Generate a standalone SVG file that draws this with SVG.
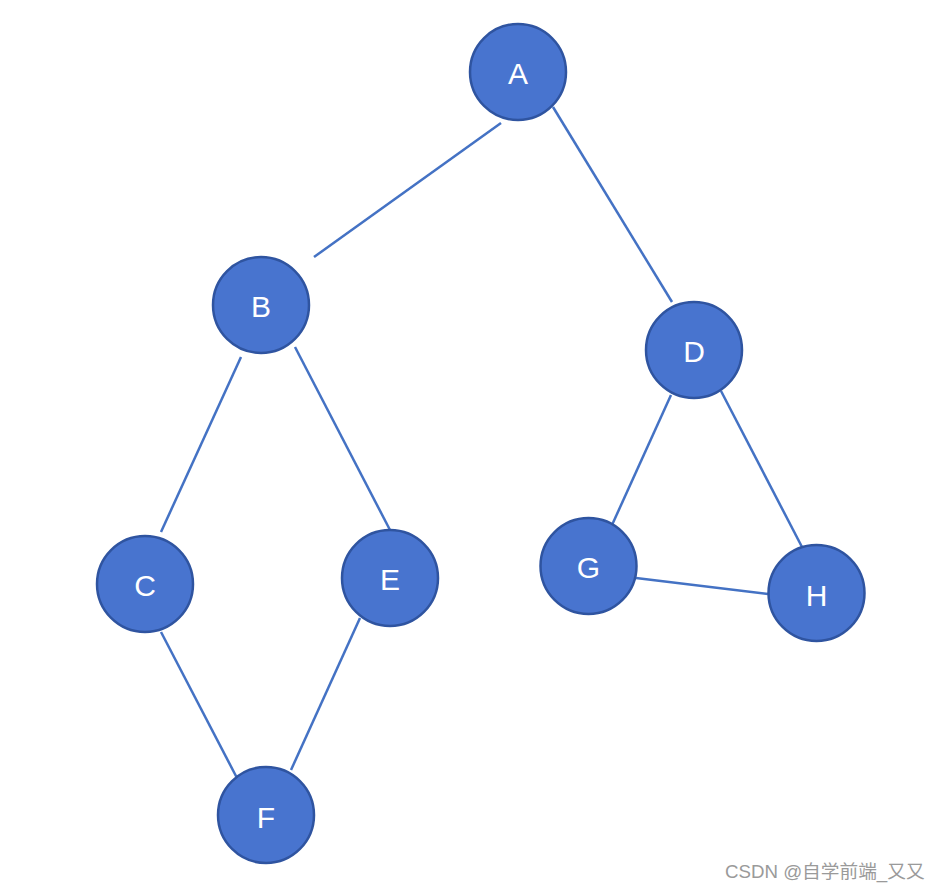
<svg xmlns="http://www.w3.org/2000/svg" width="942" height="890" viewBox="0 0 942 890">
<style>
.edge{stroke:#4472C4;stroke-width:2.5;fill:none}
.node circle{fill:#4874CF;stroke:#2F54A0;stroke-width:2.5}
.node text{fill:#fff;font-family:"Liberation Sans",Arial,sans-serif;font-size:30px;text-anchor:middle;dominant-baseline:central}
.wm{fill:#9a9a9a;font-family:"Liberation Sans","Noto Sans CJK SC",sans-serif;font-size:18.7px}
</style>
<rect width="942" height="890" fill="#fff"/>
<g id="connectors">
<line class="edge" x1="501" y1="123" x2="314" y2="257"/>
<line class="edge" x1="553" y1="107" x2="672" y2="302"/>
<line class="edge" x1="241" y1="357" x2="161" y2="532"/>
<line class="edge" x1="295" y1="347" x2="390" y2="530"/>
<line class="edge" x1="671" y1="395" x2="612" y2="525"/>
<line class="edge" x1="721" y1="391" x2="802" y2="547"/>
<line class="edge" x1="636" y1="578" x2="768" y2="594"/>
<line class="edge" x1="161" y1="632" x2="237" y2="778"/>
<line class="edge" x1="360" y1="618" x2="291" y2="770"/>
</g>
<g id="A" class="node"><circle cx="518" cy="72" r="48"/><text x="518" y="73">A</text></g>
<g id="B" class="node"><circle cx="261" cy="305" r="48"/><text x="261" y="306">B</text></g>
<g id="D" class="node"><circle cx="694" cy="350" r="48"/><text x="694" y="351">D</text></g>
<g id="C" class="node"><circle cx="145" cy="584" r="48"/><text x="145" y="585">C</text></g>
<g id="E" class="node"><circle cx="390" cy="578" r="48"/><text x="390" y="579">E</text></g>
<g id="G" class="node"><circle cx="588.5" cy="566" r="48"/><text x="588.5" y="567">G</text></g>
<g id="H" class="node"><circle cx="816.5" cy="593" r="48"/><text x="816.5" y="595">H</text></g>
<g id="F" class="node"><circle cx="266" cy="815" r="48"/><text x="266" y="817">F</text></g>
<text class="wm" x="725" y="878">CSDN @自学前端_又又</text>
</svg>
